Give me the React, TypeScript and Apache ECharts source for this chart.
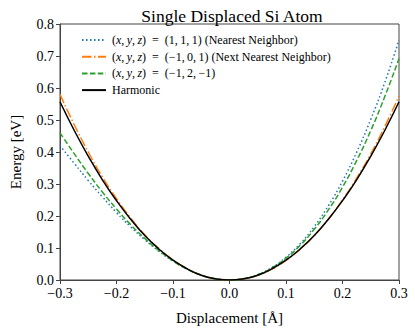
import React, { useEffect, useRef } from "react";
import * as echarts from "echarts";

const displacement = [
  -0.3, -0.275, -0.25, -0.225, -0.2, -0.175, -0.15, -0.125, -0.1, -0.075, -0.05, -0.025, 0,
  0.025, 0.05, 0.075, 0.1, 0.125, 0.15, 0.175, 0.2, 0.225, 0.25, 0.275, 0.3,
];

const nearestNeighbor = [
  0.42, 0.365, 0.311, 0.26, 0.211, 0.166, 0.126, 0.09, 0.059, 0.034, 0.0155, 0.004, 0,
  0.0042, 0.017, 0.039, 0.071, 0.1135, 0.167, 0.232, 0.309, 0.399, 0.502, 0.618, 0.75,
];

const nextNearestNeighbor = [
  0.58, 0.486, 0.4, 0.322, 0.254, 0.194, 0.141, 0.098, 0.063, 0.035, 0.015, 0.004, 0,
  0.004, 0.015, 0.034, 0.061, 0.096, 0.139, 0.19, 0.25, 0.318, 0.394, 0.48, 0.575,
];

const thirdSite = [
  0.46, 0.395, 0.333, 0.275, 0.222, 0.173, 0.13, 0.092, 0.06, 0.034, 0.0155, 0.004, 0,
  0.0041, 0.0165, 0.0378, 0.0683, 0.1084, 0.1585, 0.219, 0.29, 0.373, 0.467, 0.574, 0.692,
];

const harmonic = [
  0.557, 0.468, 0.387, 0.313, 0.248, 0.19, 0.139, 0.097, 0.062, 0.035, 0.015, 0.004, 0,
  0.004, 0.015, 0.035, 0.062, 0.097, 0.139, 0.19, 0.248, 0.313, 0.387, 0.468, 0.557,
];

const seriesNames = [
  "(x, y, z) = (1, 1, 1) (Nearest Neighbor)",
  "(x, y, z) = (−1, 0, 1) (Next Nearest Neighbor)",
  "(x, y, z) = (−1, 2, −1)",
  "Harmonic",
];

const FONT = "'Liberation Serif', 'DejaVu Serif', serif";

const pairs = (ys: number[]) => displacement.map((x, i) => [x, ys[i]]);

const fmtTick = (v: number) => {
  if (Math.abs(v) < 1e-9) return "0.0";
  return (v < 0 ? "−" : "") + Math.abs(v).toFixed(1);
};

const legendLabel = (name: string) => {
  const idx = name.indexOf(") (");
  const mathEnd = idx >= 0 ? idx + 1 : name.length;
  if (!name.startsWith("(x, y, z)")) return name;
  const math = name
    .slice(0, mathEnd)
    .replace("(x, y, z)", "({i|x},\u2009{i|y},\u2009{i|z})")
    .replace(" = ", "  =  ")
    .replace(/, (?=[0-9−])/g, ",\u2009");
  return math + name.slice(mathEnd);
};

export default function App() {
  const ref = useRef<HTMLDivElement>(null);
  useEffect(() => {
    if (!ref.current) return;
    const chart = echarts.init(ref.current, undefined, { renderer: "svg" });
    const mk = (name: string, data: number[], color: string, type: any, z: number) => ({
      name,
      type: "line",
      data: pairs(data),
      showSymbol: false,
      symbol: "none",
      smooth: true,
      z,
      lineStyle: { color, width: 1.5, type, cap: "butt" },
      itemStyle: { color },
    });
    chart.setOption({
      animation: false,
      backgroundColor: "#fff",
      title: {
        text: "Single Displaced Si Atom",
        left: 227,
        textAlign: "center",
        top: 2,
        textStyle: { fontFamily: FONT, fontSize: 17.5, fontWeight: "normal", color: "#000" },
      },
      legend: {
        orient: "vertical",
        left: 76,
        top: 29,
        itemWidth: 24,
        itemHeight: 12,
        itemGap: 4.7,
        itemStyle: { opacity: 0 },
        data: seriesNames,
        formatter: legendLabel,
        textStyle: {
          fontFamily: FONT,
          fontSize: 12,
          color: "#000",
          padding: [0, 0, 0, 1],
          rich: {
            i: { fontFamily: FONT, fontSize: 12, fontStyle: "italic", color: "#000" },
          },
        },
      },
      grid: {
        left: 55.5,
        right: 16,
        top: 24,
        bottom: 52,
        show: true,
        borderColor: "#444",
        borderWidth: 1,
        backgroundColor: "transparent",
      },
      xAxis: {
        type: "value",
        min: -0.3,
        max: 0.3,
        interval: 0.1,
        name: "Displacement [Å]",
        nameLocation: "middle",
        nameGap: 30,
        nameTextStyle: { fontFamily: FONT, fontSize: 15, color: "#000" },
        axisLine: { show: true, onZero: false, lineStyle: { color: "#444", width: 1 } },
        axisTick: { show: true, inside: false, length: 4, lineStyle: { color: "#444" } },
        splitLine: { show: false },
        axisLabel: { fontFamily: FONT, fontSize: 14, color: "#000", margin: 6, formatter: fmtTick },
      },
      yAxis: {
        type: "value",
        min: 0,
        max: 0.8,
        interval: 0.1,
        name: "Energy [eV]",
        nameLocation: "middle",
        nameGap: 37,
        nameTextStyle: { fontFamily: FONT, fontSize: 15, color: "#000" },
        axisLine: { show: true, onZero: false, lineStyle: { color: "#444", width: 1 } },
        axisTick: { show: true, inside: false, length: 4, lineStyle: { color: "#444" } },
        splitLine: { show: false },
        axisLabel: { fontFamily: FONT, fontSize: 14, color: "#000", margin: 6, formatter: fmtTick },
      },
      series: [
        mk(seriesNames[0], nearestNeighbor, "#1f77b4", [1.5, 2.5], 2),
        mk(seriesNames[1], nextNearestNeighbor, "#ff7f0e", [9.6, 2.4, 1.5, 2.4], 3),
        mk(seriesNames[2], thirdSite, "#2ca02c", [5.5, 2.4], 4),
        mk(seriesNames[3], harmonic, "#000000", "solid", 5),
      ],
    });
    return () => chart.dispose();
  }, []);
  return (
    <div
      ref={ref}
      style={{ position: "fixed", left: 0, top: 0, width: 415, height: 332 }}
    />
  );
}
